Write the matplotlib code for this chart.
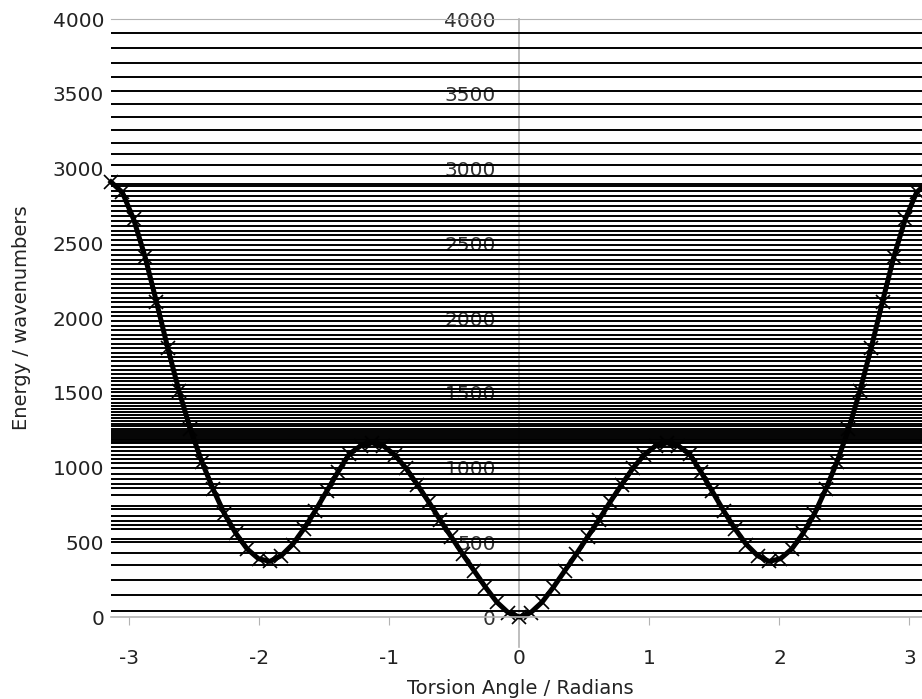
import numpy as np
import matplotlib
matplotlib.use("Agg")
import matplotlib.pyplot as plt

plt.rcParams['font.family'] = ['DejaVu Sans']
plt.rcParams['axes.unicode_minus'] = False

# torsion potential, sampled every 5 degrees from -180 to 180
angle_deg = np.arange(-180, 181, 5)
potential = [2910, 2840, 2660, 2410, 2110, 1800, 1510, 1255, 1040, 855,
             690, 560, 455, 390, 372, 410, 485, 590, 710, 840,
             970, 1090, 1145, 1165, 1145, 1085, 995, 885, 770, 650,
             535, 420, 310, 200, 100, 30, 0,
             30, 100, 200, 310, 420, 535, 650, 770, 885, 995,
             1085, 1145, 1165, 1145, 1090, 970, 840, 710, 590, 485,
             410, 372, 390, 455, 560, 690, 855, 1040, 1255, 1510,
             1800, 2110, 2410, 2660, 2840, 2910]

# energy levels (wavenumbers)
levels_high = [3905, 3805, 3708, 3612, 3521, 3430, 3343, 3258, 3173, 3096,
               3022, 2950, 2895]
levels_mid = [2880, 2847, 2814, 2781, 2748, 2715, 2682, 2650, 2617, 2584,
              2552, 2519, 2487, 2455, 2422, 2390, 2358, 2326, 2294, 2262,
              2230, 2199, 2167, 2136, 2104, 2073, 2042, 2011, 1980, 1949,
              1918, 1888, 1857, 1827, 1797, 1767, 1738, 1710, 1682, 1655,
              1628, 1602, 1576, 1551, 1526, 1502, 1478, 1455, 1432, 1410,
              1389, 1368, 1348, 1329, 1310, 1292, 1275, 1259, 1244, 1230,
              1217, 1205, 1194, 1183, 1173, 1163]
levels_low = [1140, 1110, 1085, 1060, 1030, 995, 955, 925, 890, 865,
              815, 740, 720, 675, 640, 615, 590, 525, 500, 430,
              348, 247, 147, 40]

y_ticks = [0, 500, 1000, 1500, 2000, 2500, 3000, 3500, 4000]
x_ticks = [-3, -2, -1, 0, 1, 2, 3]

fig = plt.figure(figsize=(9.22, 6.99), dpi=100)
rect = [0.1204, 0.1173, 0.886, 0.8555]

# axis through zero, drawn underneath the level lines
ax_mid = fig.add_axes(rect, zorder=0)
ax_mid.set_xlim(-np.pi, np.pi)
ax_mid.set_ylim(0, 4000)
for s in ['top', 'right', 'bottom']:
    ax_mid.spines[s].set_visible(False)
ax_mid.spines['left'].set_position(('data', 0))
ax_mid.spines['left'].set_color('#b3b3b3')
ax_mid.spines['left'].set_linewidth(1.2)
ax_mid.set_xticks([])
ax_mid.set_yticks(y_ticks)
ax_mid.tick_params(axis='y', length=0, pad=17, labelsize=14.5, labelcolor='#333333')
ax_mid.plot([0, 0], [0, -200], color='#b3b3b3', lw=1.2, clip_on=False)

ax = fig.add_axes(rect, zorder=1)
ax.patch.set_visible(False)
ax.set_xlim(-np.pi, np.pi)
ax.set_ylim(0, 4000)

all_levels = levels_high + levels_mid + levels_low
ax.hlines(all_levels, -np.pi, np.pi, colors='black', linewidth=1.4)

theta = np.deg2rad(angle_deg)
ax.plot(theta, potential, color='black', linewidth=3.6, marker='x',
        markersize=10, markeredgewidth=1.2, clip_on=False)

ax.spines['left'].set_visible(False)
ax.spines['right'].set_visible(False)
ax.spines['top'].set_color('#b3b3b3')
ax.spines['bottom'].set_color('#b3b3b3')
ax.spines['bottom'].set_linewidth(1.2)
ax.set_xticks(x_ticks)
ax.set_yticks(y_ticks)
ax.tick_params(axis='x', direction='out', length=6, color='#b3b3b3',
               pad=17, labelsize=14.5, labelcolor='#222222')
ax.tick_params(axis='y', length=0, pad=5, labelsize=14.5, labelcolor='#222222')

fig.text(0.5645, 1 - 689 / 699, 'Torsion Angle / Radians', ha='center', va='center',
         fontsize=14, color='#222222')
fig.text(22 / 922, 1 - 318 / 699, 'Energy / wavenumbers', ha='center', va='center',
         rotation=90, fontsize=14, color='#222222')

fig.savefig('out.png', dpi=100)
